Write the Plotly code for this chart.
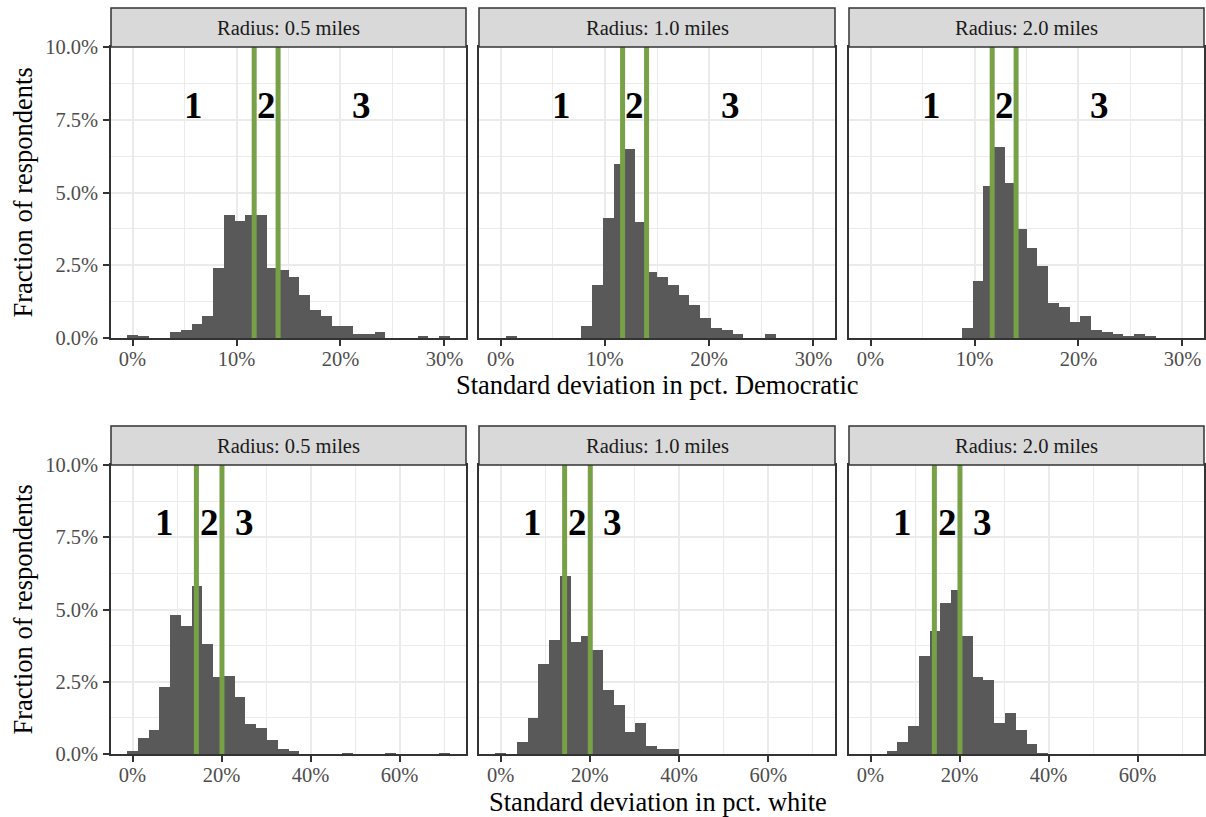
import plotly.graph_objects as go

# ---------------- data (percent of respondents per bin) ----------------
radius_labels = ["Radius: 0.5 miles", "Radius: 1.0 miles", "Radius: 2.0 miles"]

# Row 1: standard deviation in pct. Democratic, 30 bins, centers from 0% to 30%
dem_bin_first = 0.0
dem_bin_last = 30.0
dem_r05 = [0.12, 0.06, 0, 0, 0.20, 0.27, 0.47, 0.75, 2.41, 4.24, 4.03, 4.24, 4.24, 2.40, 2.34,
           2.10, 1.47, 0.96, 0.75, 0.40, 0.40, 0.13, 0.13, 0.20, 0, 0, 0, 0.06, 0, 0.06]
dem_r10 = [0, 0.07, 0, 0, 0, 0, 0, 0, 0.41, 1.83, 4.11, 5.98, 6.49, 3.97, 2.28,
           2.11, 1.83, 1.48, 1.14, 0.69, 0.35, 0.28, 0.14, 0, 0, 0.14, 0, 0, 0, 0]
dem_r20 = [0, 0, 0, 0, 0, 0, 0, 0, 0, 0.33, 1.96, 5.24, 6.55, 5.34, 3.75,
           3.10, 2.47, 1.20, 1.06, 0.54, 0.75, 0.26, 0.20, 0.13, 0.06, 0.13, 0.06, 0, 0, 0]
dem_cutoffs = [11.7, 14.0]
dem_label_x = [5.85, 12.85, 22.0]

# Row 2: standard deviation in pct. white, 30 bins, centers from 0% to 70.1%
wht_bin_first = 0.0
wht_bin_last = 70.1
wht_r05 = [0.10, 0.56, 0.84, 2.33, 4.80, 4.42, 5.82, 3.79, 2.65, 2.71, 1.98, 1.04, 0.90, 0.49, 0.17,
           0.10, 0, 0, 0, 0, 0.03, 0, 0, 0, 0.03, 0, 0, 0, 0, 0.03]
wht_r10 = [0.03, 0, 0.40, 1.23, 3.10, 3.96, 6.17, 3.89, 4.10, 3.61, 2.23, 1.68, 0.75, 1.09, 0.26,
           0.16, 0.16, 0, 0, 0, 0, 0, 0, 0, 0, 0, 0, 0, 0, 0]
wht_r20 = [0, 0, 0.09, 0.40, 0.97, 3.38, 4.24, 5.24, 5.69, 4.10, 2.68, 2.55, 1.09, 1.41, 0.82,
           0.35, 0.02, 0, 0, 0, 0, 0, 0, 0, 0, 0, 0, 0, 0, 0]
wht_cutoffs = [14.35, 20.1]
wht_label_x = [7.2, 17.2, 25.1]

section_labels = ["1", "2", "3"]
label_y = 8.0

y_tickvals = [0, 2.5, 5.0, 7.5, 10.0]
y_ticktext = ["0.0%", "2.5%", "5.0%", "7.5%", "10.0%"]
dem_xtickvals = [0, 10, 20, 30]
dem_xticktext = ["0%", "10%", "20%", "30%"]
wht_xtickvals = [0, 20, 40, 60]
wht_xticktext = ["0%", "20%", "40%", "60%"]

dem_title = "Standard deviation in pct. Democratic"
wht_title = "Standard deviation in pct. white"
y_title = "Fraction of respondents"

# ---------------- layout geometry (pixels) ----------------
W, H = 1206, 817
col_px = [(111, 466), (479, 835), (849, 1204)]
row_px = [(47, 338), (465, 754)]      # plot area top/bottom
strip_px = [(8, 47), (426, 465)]

FONT = "Liberation Serif"
BAR = "#595959"
GREEN = "#77A047"
GRID = "#EBEBEB"
DARK = "#333333"


def px_x(v):
    return v / W


def px_y(v):
    return 1 - v / H


def bin_centers(first, last, n):
    step = (last - first) / (n - 1)
    return [first + i * step for i in range(n)], step


rows = [
    dict(series=[dem_r05, dem_r10, dem_r20], first=dem_bin_first, last=dem_bin_last,
         cut=dem_cutoffs, lab=dem_label_x, xt=dem_xtickvals, xtt=dem_xticktext,
         minor=5, title=dem_title, title_y=385),
    dict(series=[wht_r05, wht_r10, wht_r20], first=wht_bin_first, last=wht_bin_last,
         cut=wht_cutoffs, lab=wht_label_x, xt=wht_xtickvals, xtt=wht_xticktext,
         minor=10, title=wht_title, title_y=802),
]

fig = go.Figure()
layout = dict(template="none", width=W, height=H, margin=dict(l=0, r=0, t=0, b=0, pad=0),
              paper_bgcolor="white", plot_bgcolor="white", showlegend=False,
              barmode="overlay", bargap=0, font=dict(family=FONT, color="black"))
shapes = []
annotations = []

for r, row in enumerate(rows):
    n = len(row["series"][0])
    centers, step = bin_centers(row["first"], row["last"], n)
    lo_edge = row["first"] - step / 2
    hi_edge = row["last"] + step / 2
    pad = (hi_edge - lo_edge) * 0.05
    xrange = [lo_edge - pad, hi_edge + pad]
    for c in range(3):
        p = r * 3 + c
        sfx = "" if p == 0 else str(p + 1)
        xa, ya = "x" + sfx, "y" + sfx
        fig.add_trace(go.Bar(x=centers, y=row["series"][c], width=[step] * n,
                             marker=dict(color=BAR, line=dict(width=0)),
                             xaxis=xa, yaxis=ya, hoverinfo="skip"))
        x0, x1 = col_px[c]
        y0, y1 = row_px[r]
        layout["xaxis" + sfx] = dict(
            domain=[px_x(x0), px_x(x1)], anchor=ya, range=xrange, automargin=False,
            tickvals=row["xt"], ticktext=row["xtt"], ticks="outside", ticklen=6,
            ticklabelstandoff=-4,
            tickwidth=1.5, tickcolor=DARK, showline=True, mirror=True,
            linecolor=DARK, linewidth=1.5, showgrid=True, gridcolor=GRID, gridwidth=1.6,
            zeroline=False, tickfont=dict(family=FONT, size=20.5, color="#4D4D4D"),
            minor=dict(dtick=row["minor"], tick0=0, showgrid=True, gridcolor=GRID,
                       gridwidth=0.8, ticks=""),
            fixedrange=True)
        layout["yaxis" + sfx] = dict(
            domain=[px_y(y1), px_y(y0)], anchor=xa, range=[0, 10], automargin=False,
            tickvals=y_tickvals, ticktext=y_ticktext,
            ticks="outside" if c == 0 else "", ticklen=6, tickwidth=1.5, tickcolor=DARK,
            ticklabelstandoff=1,
            showticklabels=(c == 0), showline=True, mirror=True, linecolor=DARK,
            linewidth=1.5, showgrid=True, gridcolor=GRID, gridwidth=1.6, zeroline=False,
            tickfont=dict(family=FONT, size=20.5, color="#4D4D4D"),
            minor=dict(dtick=1.25, tick0=0, showgrid=True, gridcolor=GRID,
                       gridwidth=0.8, ticks=""),
            fixedrange=True)
        for cut in row["cut"]:
            shapes.append(dict(type="line", xref=xa, yref=ya, x0=cut, x1=cut, y0=0, y1=10,
                               line=dict(color=GREEN, width=5), layer="above"))
        for lx, lt in zip(row["lab"], section_labels):
            annotations.append(dict(xref=xa, yref=ya, x=lx, y=label_y, text="<b>" + lt + "</b>",
                                    showarrow=False, xanchor="center", yanchor="middle",
                                    font=dict(family=FONT, size=37, color="black")))
        # strip
        s0, s1 = strip_px[r]
        shapes.append(dict(type="rect", xref="paper", yref="paper",
                           x0=px_x(x0), x1=px_x(x1), y0=px_y(s1), y1=px_y(s0),
                           fillcolor="#D9D9D9", line=dict(color=DARK, width=1.5), layer="above"))
        annotations.append(dict(xref="paper", yref="paper", x=px_x((x0 + x1) / 2),
                                y=px_y((s0 + s1) / 2), text=radius_labels[c], showarrow=False,
                                xanchor="center", yanchor="middle",
                                font=dict(family=FONT, size=20.5, color="#1A1A1A")))
    # axis titles
    annotations.append(dict(xref="paper", yref="paper", x=px_x((col_px[0][0] + col_px[2][1]) / 2),
                            y=px_y(row["title_y"]), text=row["title"], showarrow=False,
                            xanchor="center", yanchor="middle",
                            font=dict(family=FONT, size=26.5, color="black")))
    annotations.append(dict(xref="paper", yref="paper", x=px_x(22),
                            y=px_y((row_px[r][0] + row_px[r][1]) / 2), text=y_title,
                            showarrow=False, textangle=-90, xanchor="center", yanchor="middle",
                            font=dict(family=FONT, size=26.5, color="black")))

layout["shapes"] = shapes
layout["annotations"] = annotations
fig.update_layout(**layout)
fig.write_html("out.html", config={"displayModeBar": False},
               post_script="document.body.style.margin='0';document.body.style.overflow='hidden';")
